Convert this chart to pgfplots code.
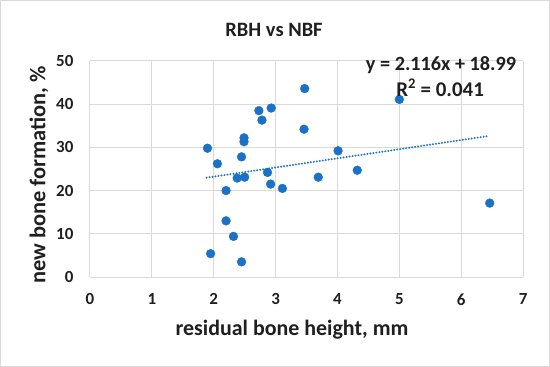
\documentclass[border=0pt]{standalone}
\usepackage{fontspec}
\setmainfont{Carlito}
\usepackage{pgfplots}
\pgfplotsset{compat=1.18}
\definecolor{dotblue}{RGB}{26,113,197}
\definecolor{gridgray}{RGB}{217,217,217}
\begin{document}
\begin{tikzpicture}[x=1bp,y=1bp]
\draw[gridgray, line width=0.8bp] (0.5,0.5) rectangle (549.5,366.5);
\begin{axis}[
  at={(90bp,90bp)}, anchor=south west,
  scale only axis, width=433bp, height=216bp,
  xmin=0, xmax=7, ymin=0, ymax=50,
  xtick={0,1,...,7}, ytick={0,10,...,50},
  grid=major,
  major grid style={gridgray, line width=0.9bp},
  axis line style={gridgray, line width=0.9bp},
  axis x line*=bottom, axis y line*=left,
  major tick length=0pt,
  /pgf/number format/assume math mode=true,
  tick label style={font=\fontsize{17}{17}\selectfont\bfseries, text=black!88},
  xticklabel style={yshift=-13bp},
  yticklabel style={xshift=-13bp},
  clip=false,
]
\addplot[only marks, mark=*, mark size=4.4bp, dotblue, mark options={draw=dotblue, fill=dotblue}] coordinates {
(3.47,43.6) (5.00,41.1) (2.73,38.5) (2.93,39.1) (2.78,36.3) (3.46,34.2)
(2.49,32.2) (2.49,31.3) (1.90,29.8) (4.01,29.2) (2.45,27.8) (2.06,26.2)
(4.32,24.7) (2.87,24.2) (2.38,22.9) (2.50,23.1) (3.69,23.1) (2.92,21.5)
(3.11,20.5) (2.20,20.0) (6.46,17.1) (2.20,13.0) (2.32,9.4) (1.95,5.4)
(2.45,3.5)
};
\addplot[dotblue, line width=2.2bp, line cap=round, dash pattern=on 0.01bp off 3bp] coordinates {(1.885,22.98) (6.43,32.60)};
\end{axis}
\node[font=\fontsize{20.5}{21}\selectfont\bfseries, text=black!88] at (274,337) {RBH vs NBF};
\node[font=\fontsize{22}{22}\selectfont\bfseries, text=black!88] at (292,37) {residual bone height, mm};
\node[font=\fontsize{22.5}{22}\selectfont\bfseries, text=black!88, rotate=90] at (39,192) {new bone formation, \%};
\node[font=\fontsize{20.3}{21}\selectfont\bfseries, text=black!88] at (441,302) {y = 2.116x + 18.99};
\node[font=\fontsize{21}{21}\selectfont\bfseries, text=black!88] at (440,279) {R\textsuperscript{2} = 0.041};
\end{tikzpicture}
\end{document}
